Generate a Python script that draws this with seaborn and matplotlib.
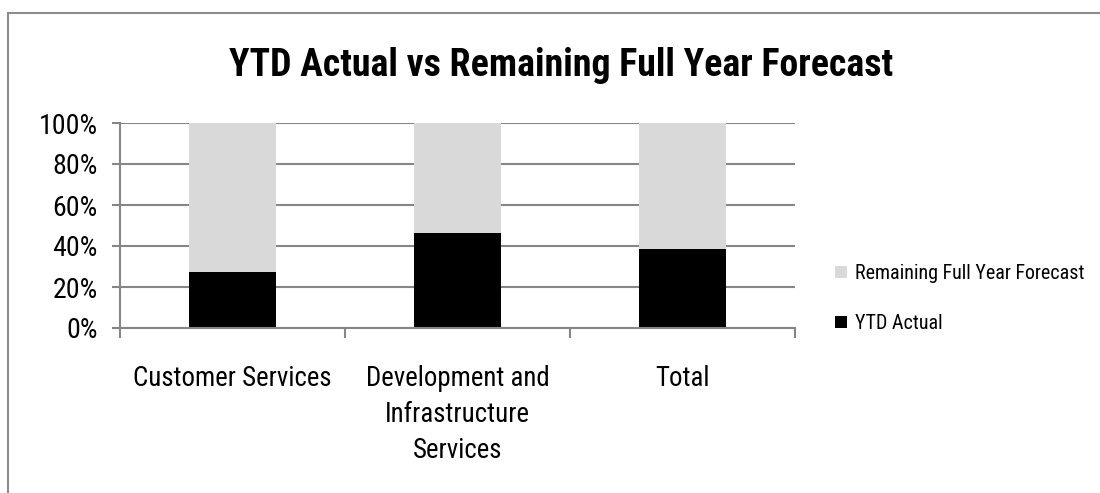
import matplotlib
matplotlib.use("Agg")
import matplotlib.pyplot as plt
import seaborn as sns
import pandas as pd
from matplotlib import font_manager
from matplotlib.patches import Patch, Rectangle
from matplotlib.ticker import FixedLocator, PercentFormatter

categories = ["Customer Services", "Development and\nInfrastructure\nServices", "Total"]
ytd_actual = [27.5, 46.2, 38.5]
remaining_forecast = [72.5, 53.8, 61.5]
yticks = [0, 20, 40, 60, 80, 100]
series_names = ["Remaining Full Year Forecast", "YTD Actual"]
title = "YTD Actual vs Remaining Full Year Forecast"

sns.set_style("white")
installed = {f.name for f in font_manager.fontManager.ttflist}
choice = next((f for f in ["Liberation Sans Narrow", "Roboto Condensed",
                           "Open Sans Condensed", "Roboto", "Lato"]
               if f in installed), "DejaVu Sans")
FONT = [choice, "DejaVu Sans"]
plt.rcParams["font.family"] = FONT

DPI = 100
fig = plt.figure(figsize=(11, 4.93), dpi=DPI)
renderer = fig.canvas.get_renderer()


def fit_size(text, target_px, weight="normal"):
    t = fig.text(0, 0, text, fontsize=20, fontweight=weight, family=FONT)
    w = t.get_window_extent(renderer).width
    t.remove()
    return 20 * target_px / w


title_fs = fit_size(title, 664, "bold")
cat_fs = fit_size("Customer Services", 199)
tick_fs = fit_size("100%", 59)
leg_fs = fit_size("Remaining Full Year Forecast", 230)

df = pd.DataFrame({
    "category": categories,
    "ytd": ytd_actual,
    "total": [a + b for a, b in zip(ytd_actual, remaining_forecast)],
})

ax = fig.add_axes([120 / 1100, 1 - 328 / 493, 675 / 1100, 205 / 493])

GRID = "#868686"
LIGHT = "#d9d9d9"

sns.barplot(data=df, x="category", y="total", color=LIGHT, width=0.39,
            saturation=1, ax=ax, zorder=3, linewidth=0, edgecolor="none")
sns.barplot(data=df, x="category", y="ytd", color="black", width=0.39,
            saturation=1, ax=ax, zorder=4, linewidth=0, edgecolor="none")

ax.set_xlim(-0.5, 2.5)
ax.set_ylim(0, 100)
ax.set_xlabel("")
ax.set_ylabel("")

ax.yaxis.set_major_locator(FixedLocator(yticks))
ax.yaxis.set_major_formatter(PercentFormatter(decimals=0))
ax.yaxis.grid(True, color=GRID, linewidth=1.5, zorder=0)
ax.set_axisbelow(True)

ax.xaxis.set_major_locator(FixedLocator([-0.5, 0.5, 1.5, 2.5]))
ax.xaxis.set_minor_locator(FixedLocator([0, 1, 2]))
ax.set_xticklabels([], minor=False)
ax.set_xticklabels(categories, minor=True, fontsize=cat_fs, linespacing=1.42,
                   multialignment="center", color="black")
ax.tick_params(axis="x", which="major", length=7, width=1.5, color=GRID,
               direction="out", bottom=True)
ax.tick_params(axis="x", which="minor", length=0, pad=27)
ax.tick_params(axis="y", length=6, width=1.5, color=GRID, left=True,
               labelsize=tick_fs, pad=10, labelcolor="black")

for side in ["top", "right"]:
    ax.spines[side].set_visible(False)
for side in ["left", "bottom"]:
    ax.spines[side].set_color(GRID)
    ax.spines[side].set_linewidth(1.5)
ax.spines["bottom"].set_zorder(5)

fig.text(561 / 1100, 1 - 76 / 493, title, ha="center", va="baseline",
         fontsize=title_fs, fontweight="bold", family=FONT, color="black")

handles = [Patch(facecolor=LIGHT, edgecolor="none"),
           Patch(facecolor="black", edgecolor="none")]
fig.legend(handles, series_names, loc="upper left",
           bbox_to_anchor=(835 / 1100, 1 - 264 / 493), frameon=False,
           borderpad=0, borderaxespad=0,
           fontsize=leg_fs, handlelength=0.6, handleheight=0.6,
           handletextpad=0.4, labelspacing=1.55, labelcolor="black")

fig.patches.append(Rectangle((8 / 1100, -0.1), 1.2, (1 - 13 / 493) + 0.1,
                             transform=fig.transFigure, fill=False,
                             edgecolor="#8c8c8c", linewidth=1.5, zorder=0))

fig.savefig("out.png", dpi=DPI)
